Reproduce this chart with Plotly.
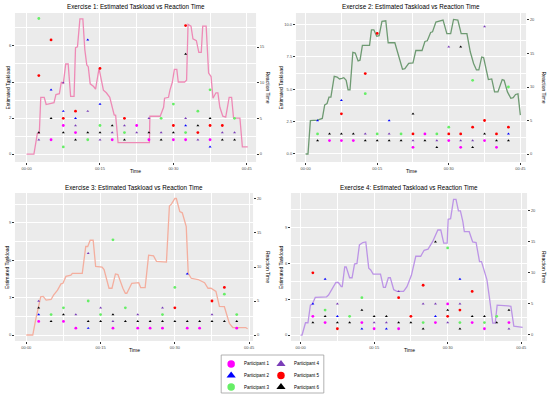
import plotly.graph_objects as go

# ---------------- data ----------------
POINT_TIMES = [2.5, 5, 7.5, 10, 12.5, 15, 17.5, 20, 22.5, 25, 27.5, 30, 32.5, 35, 37.5, 40, 42.5]
TIME_TICKS = [0, 15, 30, 45]
TIME_LABELS = ["00:00", "00:15", "00:30", "00:45"]
PARTICIPANTS = ["Participant 1", "Participant 2", "Participant 3",
                "Participant 4", "Participant 5", "Participant 6"]

# Exercise 1
ex1_line_time = [0, 1.5, 2.2, 2.6, 2.9, 3.6, 4.0, 5.0, 5.6, 6.0, 6.7, 7.1, 7.5, 8.0, 8.5, 9.0, 9.7, 10.0,
                 10.4, 10.9, 11.5, 11.9, 12.3, 12.6, 13.0, 13.7, 14.1, 14.8, 15.7, 16.3, 17.0, 17.9, 18.2,
                 18.7, 25.1, 25.2, 27.3, 28.0, 28.2, 29.0, 29.3, 29.8, 30.2, 30.7, 31.0, 32.3, 32.7, 33.0,
                 33.6, 34.0, 34.7, 35.2, 35.7, 36.0, 36.7, 37.2, 37.7, 38.1, 38.7, 39.1, 39.5, 40.1, 40.7,
                 41.4, 41.9, 42.3, 43.6, 44.1, 45.2]
ex1_taskload = [0, 0, 1.15, 1.15, 3.15, 3.15, 2.75, 2.8, 2.85, 3.3, 3.35, 4.0, 3.9, 5.0, 5.0, 3.2, 3.2, 5.9,
                5.95, 7.5, 7.5, 5.8, 4.95, 4.85, 3.9, 3.75, 3.6, 4.75, 3.55, 3.4, 3.15, 2.17, 2.15,
                0.63, 0.63, 2.1, 2.1, 2.6, 3.1, 3.15, 3.55, 4.0, 4.7, 4.7, 4.0, 4.0, 4.1, 7.2,
                7.1, 6.4, 6.3, 5.65, 5.65, 7.1, 7.1, 4.5, 4.3, 3.1, 3.4, 3.4, 2.6, 2.1, 2.05,
                3.15, 3.15, 2.0, 2.0, 0.4, 0.4]
ex1_p1 = [None, 2, 4, 3, None, None, 2, None, 4, 2, None, 2, 2, None, 2, None, None]
ex1_p2 = [None, 9, 6, 5, 16, 7, None, None, None, None, None, None, 4, None, 1, None, None]
ex1_p3 = [19, None, 1, None, 2, 4, None, 3, None, None, 5, 7, 3, 6, 9, None, 5]
ex1_p4 = [2, None, 10, 4, 6, 2, 3, 4, 3, 5, 3, None, 5, 2, None, 3, 3]
ex1_p5 = [11, 16, 5, 6, None, 12, None, 5, None, None, None, 4, 18, 3, 4, 4, None]
ex1_p6 = [3, 5, 3, 2, 3, 3, 4, 2, None, 3, 2, 3, 14, 4, 5, 2, 2]

# Exercise 2
ex2_line_time = [0, 0.5, 1.0, 2.5, 3.5, 4.0, 4.5, 4.9, 5.3, 6.0, 6.6, 7.1, 7.6, 8.0, 8.5, 8.9, 9.3, 9.9,
                 10.4, 11.0, 11.4, 11.9, 13.4, 13.8, 14.3, 14.9, 15.4, 16.0, 16.8, 17.3, 18.7, 19.6, 20.3,
                 20.8, 21.6, 22.5, 23.1, 24.4, 25.0, 25.5, 26.2, 26.6, 27.3, 28.8, 29.6, 30.4, 31.0, 31.9,
                 32.6, 33.8, 34.5, 35.2, 35.8, 36.3, 36.9, 37.3, 38.3, 39.0, 39.6, 40.3, 41.2, 41.6, 42.3,
                 43.0, 43.5, 44.0, 44.5, 45.0]
ex2_taskload = [0, 0, 2.58, 2.62, 2.75, 3.8, 3.9, 4.4, 4.4, 6.0, 5.95, 5.8, 5.85, 5.9, 5.7, 4.95, 4.95, 7.85,
                7.8, 7.2, 7.25, 8.4, 8.4, 9.6, 9.6, 9.1, 9.15, 10.25, 10.3, 8.6, 8.6, 7.5, 6.55,
                6.6, 7.0, 7.05, 8.0, 8.0, 8.7, 8.75, 9.4, 9.45, 10.2, 10.35, 9.3, 9.3, 10.4, 10.35,
                9.3, 9.3, 7.9, 7.0, 6.5, 6.5, 7.5, 7.45, 5.75, 5.8, 4.8, 4.8, 5.75, 5.7, 4.8,
                4.3, 4.35, 4.6, 4.65, 3.0]
ex2_p1 = [None, 2, 2, 2, None, None, None, None, 1, 3, None, 2, 1, None, 2, 1, None]
ex2_p2 = [5, None, 8, None, None, None, 5, None, None, None, None, None, None, None, None, None, 3]
ex2_p3 = [3, None, None, None, 9, 3, None, 3, None, None, 3, 4, None, 11, None, None, 10]
ex2_p4 = [None, None, None, None, 3, None, 3, None, 2, None, 2, 16, 2, 2, 19, None, None]
ex2_p5 = [None, None, 6, None, 12, 18, None, None, 3, None, None, 3, 3, 4, 5, 3, 4]
ex2_p6 = [2, 3, 3, 3, 2, 2, 2, 2, 6, 2, 1, None, 16, 1, 3, 2, 2]

# Exercise 3
ex3_line_time = [0, 1.3, 1.9, 2.9, 3.4, 4.0, 5.0, 5.5, 6.3, 7.0, 7.4, 8.0, 9.0, 9.3, 11.3, 12.0, 12.4, 12.9,
                 13.5, 14.0, 15.3, 15.7, 16.7, 17.3, 18.0, 18.5, 19.5, 20.0, 20.3, 21.3, 22.7, 23.1, 24.0,
                 24.7, 25.7, 26.3, 28.3, 28.9, 29.3, 30.0, 30.3, 31.0, 31.5, 32.0, 32.3, 32.7, 33.3, 34.7,
                 36.0, 36.7, 37.3, 38.3, 39.0, 40.0, 41.0, 41.7, 44.3, 44.7]
ex3_taskload = [0, 0, 1.26, 3.07, 3.1, 2.8, 2.85, 3.2, 3.6, 4.1, 4.15, 4.7, 4.8, 4.95, 4.95, 7.1, 7.1, 7.6,
                7.6, 5.5, 5.45, 5.25, 3.75, 3.75, 4.9, 4.85, 3.75, 3.35, 3.35, 4.15, 4.2, 3.8, 3.8,
                6.4, 6.35, 5.9, 5.85, 10.35, 10.5, 10.95, 10.95, 9.9, 9.8, 8.95, 8.7, 4.95, 4.55, 4.45,
                4.2, 3.75, 3.75, 3.5, 2.3, 2.27, 0.94, 0.6, 0.6, 0.5]
ex3_p1 = [2, None, 2, 1, None, None, 1, None, 1, 1, 1, None, 1, 1, None, None, 1]
ex3_p2 = [3, None, None, None, 1, None, None, None, None, None, None, None, 9, None, None, None, None]
ex3_p3 = [None, 3, 4, None, 5, 3, 14, 4, None, None, 3, 7, None, None, None, 6, 3]
ex3_p4 = [5, None, None, 3, 12, 4, 2, None, 3, None, 4, None, None, None, 3, None, None]
ex3_p5 = [None, None, None, None, None, None, None, None, None, None, None, 4, None, None, 5, 7, None]
ex3_p6 = [4, 2, 3, None, 2, 2, 3, 2, 2, 2, 2, 2, 2, 2, 2, 2, 2]

# Exercise 4
ex4_line_time = [0, 0.3, 1.0, 1.5, 2.0, 2.4, 3.0, 5.3, 5.7, 6.3, 6.8, 7.2, 7.7, 8.3, 8.5, 9.0, 9.3, 10.0,
                 10.5, 11.0, 11.5, 12.0, 12.7, 13.3, 13.9, 14.3, 14.8, 16.3, 16.9, 17.3, 17.9, 18.3, 19.0,
                 19.7, 21.0, 21.7, 22.6, 23.5, 24.5, 25.2, 26.0, 26.9, 28.0, 28.6, 29.2, 29.9, 30.1, 30.6,
                 31.2, 31.7, 32.2, 32.6, 33.1, 33.4, 34.4, 35.1, 35.8, 36.5, 36.9, 37.5, 38.0, 38.5, 39.2,
                 39.7, 40.1, 42.3, 42.9, 43.5, 44.7, 45.3]
ex4_taskload = [0, 0, 1.03, 1.03, 2.5, 2.6, 3.15, 3.2, 3.35, 3.77, 4.05, 4.4, 4.4, 4.05, 4.05, 5.7, 5.7, 4.8,
                4.8, 5.95, 6.0, 7.55, 7.75, 7.8, 5.6, 5.45, 5.1, 5.1, 4.0, 4.0, 4.8, 4.8, 3.8,
                3.65, 3.65, 4.05, 5.0, 6.6, 6.6, 7.1, 7.2, 7.8, 8.8, 8.8, 7.7, 7.7, 9.7, 9.75,
                11.37, 11.37, 10.4, 10.4, 9.5, 8.66, 8.66, 7.8, 7.75, 6.15, 6.15, 5.2, 4.65, 3.2, 1.0,
                1.0, 2.5, 2.45, 2.4, 0.75, 0.7, 0.65]
ex4_p1 = [3, 2, None, None, 2, 1, None, 1, None, None, 2, 5, None, 2, 1, None, 2]
ex4_p2 = [5, 9, 3, None, 1, None, 1, None, None, None, 3, None, 9, None, None, None, None]
ex4_p3 = [None, 4, None, 3, 6, None, None, None, None, 2, None, 14, 2, None, 2, 3, None]
ex4_p4 = [None, None, 5, None, None, 2, 2, 7, None, 5, 5, 2, 5, None, None, None, 1]
ex4_p5 = [10, None, 1, None, None, None, None, 6, 3, 8, None, 3, 4, 7, None, None, None]
ex4_p6 = [2, 3, 2, 2, 4, 3, 3, 2, 2, 1, 15, 4, 1, 3, 3, 2, 4]

# ---------------- styling ----------------
W, H = 550, 396
FONT = "Liberation Sans, Arial, Helvetica, sans-serif"
P_COLORS = ["#FF00FF", "#0000FF", "#66EE66", "#7A3DB8", "#FF0000", "#000000"]
P_SYMBOLS = ["circle", "triangle-up", "circle", "triangle-up", "circle", "triangle-up"]

panels = [
    dict(n=1, title="Exercise 1: Estimated Taskload vs Reaction Time", box=(15, 13, 257, 162),
         xr=[-2.38, 46.9], yl=[-0.44, 7.83], yr=[-1.12, 19.77],
         lt=[0, 2, 4, 6], ltt=["0", "2", "4", "6"], lmin=[1, 3, 5, 7], rt=[0, 5, 10, 15],
         color="#EE8AB6", t=ex1_line_time, load=ex1_taskload,
         pts=[ex1_p1, ex1_p2, ex1_p3, ex1_p4, ex1_p5, ex1_p6], ltx=8, rtx=269),
    dict(n=2, title="Exercise 2: Estimated Taskload vs Reaction Time", box=(297, 13, 528, 162),
         xr=[-2.03, 46.2], yl=[-0.62, 10.9], yr=[-1.19, 21.04],
         lt=[0, 2.5, 5, 7.5, 10], ltt=["0.0", "2.5", "5.0", "7.5", "10.0"], lmin=[1.25, 3.75, 6.25, 8.75],
         rt=[0, 5, 10, 15, 20],
         color="#6E9A72", t=ex2_line_time, load=ex2_taskload,
         pts=[ex2_p1, ex2_p2, ex2_p3, ex2_p4, ex2_p5, ex2_p6], ltx=282, rtx=546),
    dict(n=3, title="Exercise 3: Estimated Taskload vs Reaction Time", box=(15, 193, 254, 341),
         xr=[-2.3, 45.8], yl=[-0.48, 11.39], yr=[-0.88, 20.88],
         lt=[0, 3, 6, 9], ltt=["0", "3", "6", "9"], lmin=[1.5, 4.5, 7.5, 10.5], rt=[0, 5, 10, 15, 20],
         color="#F4AE9E", t=ex3_line_time, load=ex3_taskload,
         pts=[ex3_p1, ex3_p2, ex3_p3, ex3_p4, ex3_p5, ex3_p6], ltx=7, rtx=269),
    dict(n=4, title="Exercise 4: Estimated Taskload vs Reaction Time", box=(292, 193, 529, 341),
         xr=[-1.97, 46.2], yl=[-0.5, 11.9], yr=[-0.97, 22.84],
         lt=[0, 3, 6, 9], ltt=["0", "3", "6", "9"], lmin=[1.5, 4.5, 7.5, 10.5], rt=[0, 5, 10, 15, 20],
         color="#BC94E6", t=ex4_line_time, load=ex4_taskload,
         pts=[ex4_p1, ex4_p2, ex4_p3, ex4_p4, ex4_p5, ex4_p6], ltx=282, rtx=546),
]

fig = go.Figure()
layout = dict(
    width=W, height=H, margin=dict(l=0, r=0, t=0, b=0),
    paper_bgcolor="white", plot_bgcolor="#EBEBEB", showlegend=False,
    font=dict(family=FONT, size=5, color="#4D4D4D"),
)
annotations = []
shapes = []

tick_common = dict(ticks="outside", ticklen=2, tickwidth=0.5, tickcolor="#333333",
                   tickfont=dict(family=FONT, size=4, color="#4D4D4D"), zeroline=False, showline=False)

for p in panels:
    n = p["n"]
    x0, y0, x1, y1 = p["box"]
    xs = "" if n == 1 else str(n)
    xd = [x0 / W, x1 / W]
    yd = [1 - y1 / H, 1 - y0 / H]
    layout["xaxis" + xs] = dict(
        domain=xd, range=p["xr"], anchor="y" + xs, tickmode="array",
        tickvals=TIME_TICKS, ticktext=TIME_LABELS, showgrid=True, gridcolor="white", gridwidth=0.8,
        minor=dict(tickmode="array", tickvals=[7.5, 22.5, 37.5], showgrid=True,
                   gridcolor="white", gridwidth=0.4, ticks=""),
        **tick_common)
    layout["yaxis" + xs] = dict(
        domain=yd, range=p["yl"], anchor="x" + xs, tickmode="array",
        tickvals=p["lt"], ticktext=p["ltt"], showgrid=True, gridcolor="white", gridwidth=0.8,
        minor=dict(tickmode="array", tickvals=p["lmin"], showgrid=True,
                   gridcolor="white", gridwidth=0.4, ticks=""),
        **tick_common)
    layout["yaxis" + str(n + 4)] = dict(
        range=p["yr"], anchor="x" + xs, overlaying="y" + xs, side="right",
        tickmode="array", tickvals=p["rt"], showgrid=False, **tick_common)

    fig.add_trace(go.Scatter(x=p["t"], y=p["load"], mode="lines",
                             line=dict(color=p["color"], width=1.3),
                             xaxis="x" + xs, yaxis="y" + xs, hoverinfo="skip"))
    for i, vals in enumerate(p["pts"]):
        xs_pts = [t for t, v in zip(POINT_TIMES, vals) if v is not None]
        ys_pts = [v for v in vals if v is not None]
        fig.add_trace(go.Scatter(x=xs_pts, y=ys_pts, mode="markers", name=PARTICIPANTS[i],
                                 marker=dict(color=P_COLORS[i], symbol=P_SYMBOLS[i],
                                             size=2.8 if P_SYMBOLS[i] == "circle" else 2.6,
                                             line=dict(width=0)),
                                 xaxis="x" + xs, yaxis="y" + str(n + 4)))

    cx = (x0 + x1) / 2
    annotations.append(dict(text=p["title"], x=cx / W, y=1 - (y0 - 6) / H, xref="paper", yref="paper",
                            showarrow=False, xanchor="center", yanchor="middle",
                            font=dict(family=FONT, size=6.3, color="#000000")))
    annotations.append(dict(text="Time", x=cx / W, y=1 - (y1 + 9) / H, xref="paper", yref="paper",
                            showarrow=False, xanchor="center", yanchor="middle",
                            font=dict(family=FONT, size=5, color="#000000")))
    cy = (y0 + y1) / 2
    annotations.append(dict(text="Estimated Taskload", x=p["ltx"] / W, y=1 - cy / H, xref="paper",
                            yref="paper", showarrow=False, textangle=-90, xanchor="center",
                            yanchor="middle", font=dict(family=FONT, size=5, color="#000000")))
    annotations.append(dict(text="Reaction Time", x=p["rtx"] / W, y=1 - cy / H, xref="paper",
                            yref="paper", showarrow=False, textangle=90, xanchor="center",
                            yanchor="middle", font=dict(family=FONT, size=5, color="#000000")))

# ---------------- legend (key panel) ----------------
LX0, LY0, LX1, LY1 = 222, 355, 325, 393
layout["xaxis5"] = dict(domain=[LX0 / W, LX1 / W], range=[-0.2, 1.86], anchor="y9",
                        visible=False, fixedrange=True)
layout["yaxis9"] = dict(domain=[1 - LY1 / H, 1 - LY0 / H], range=[-2.52, 0.78], anchor="x5",
                        visible=False, fixedrange=True)
shapes.append(dict(type="rect", xref="x5 domain", yref="y9 domain", x0=0, x1=1, y0=0, y1=1,
                   fillcolor="white", line=dict(color="#A0A0A0", width=0.8), layer="below"))
for i, name in enumerate(PARTICIPANTS):
    col, row = i // 3, i % 3
    fig.add_trace(go.Scatter(x=[col], y=[-row], mode="markers", name=name,
                             marker=dict(color=P_COLORS[i], symbol=P_SYMBOLS[i],
                                         size=8 if P_SYMBOLS[i] != "circle" else 7.5,
                                         line=dict(width=0)),
                             xaxis="x5", yaxis="y9", hoverinfo="skip"))
    annotations.append(dict(text=name, x=col + 0.22, y=-row, xref="x5", yref="y9", showarrow=False,
                            xanchor="left", yanchor="middle",
                            font=dict(family=FONT, size=4.5, color="#000000")))

layout["annotations"] = annotations
layout["shapes"] = shapes
fig.update_layout(**layout)
fig.write_html("out.html", config={"displayModeBar": False},
               post_script="document.body.style.margin='0';document.body.style.padding='0';")
